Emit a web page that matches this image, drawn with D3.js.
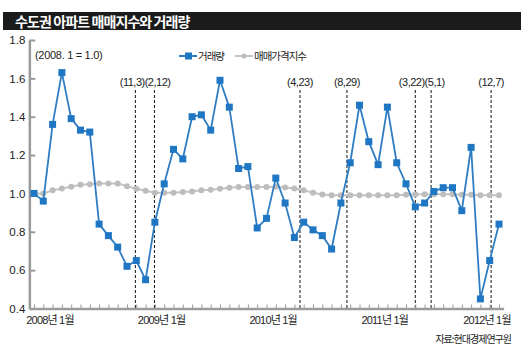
<!DOCTYPE html>
<head>
    <meta charset="utf-8">
    <script src="https://cdn.jsdelivr.net/npm/d3@7/dist/d3.min.js"></script>

    <style type="text/css">
        body {
            margin: 0;
            background: #fff; }

        text {
            font-family: "Liberation Sans", "Noto Sans CJK KR", sans-serif;
            fill: #222; }

        .kr {
            font-family: "Noto Sans CJK KR", sans-serif; }

        .axis path,
        .axis line {
            fill: none;
            stroke: #9a9a9a; }

        .axis path {
            stroke-width: 2.5; }

        .event {
            stroke: #111;
            stroke-width: 1;
            stroke-dasharray: 3, 2; }
    </style>
</head>

<body>
    <svg id="chart"></svg>

    <script>
        // monthly points, 2008.01 - 2012.03
        var months = [
            "2008.01", "2008.02", "2008.03", "2008.04", "2008.05", "2008.06", "2008.07", "2008.08", "2008.09", "2008.10", "2008.11", "2008.12",
            "2009.01", "2009.02", "2009.03", "2009.04", "2009.05", "2009.06", "2009.07", "2009.08", "2009.09", "2009.10", "2009.11", "2009.12",
            "2010.01", "2010.02", "2010.03", "2010.04", "2010.05", "2010.06", "2010.07", "2010.08", "2010.09", "2010.10", "2010.11", "2010.12",
            "2011.01", "2011.02", "2011.03", "2011.04", "2011.05", "2011.06", "2011.07", "2011.08", "2011.09", "2011.10", "2011.11", "2011.12",
            "2012.01", "2012.02", "2012.03"
        ];

        // 거래량
        var volume = [
            1.00, 0.96, 1.36, 1.63, 1.39, 1.33, 1.32, 0.84, 0.78, 0.72, 0.62, 0.65,
            0.55, 0.85, 1.05, 1.23, 1.18, 1.40, 1.41, 1.33, 1.59, 1.45, 1.13, 1.14,
            0.82, 0.87, 1.08, 0.95, 0.77, 0.85, 0.81, 0.78, 0.71, 0.95, 1.16, 1.46,
            1.27, 1.15, 1.45, 1.16, 1.05, 0.93, 0.95, 1.01, 1.03, 1.03, 0.91, 1.24,
            0.45, 0.65, 0.84
        ];

        // 매매가격지수
        var priceIndex = [
            1.000, 1.000, 1.016, 1.026, 1.035, 1.045, 1.048, 1.052, 1.052, 1.052, 1.038, 1.024,
            1.014, 1.004, 1.004, 1.004, 1.007, 1.010, 1.016, 1.019, 1.024, 1.030, 1.033, 1.033,
            1.033, 1.033, 1.035, 1.031, 1.026, 1.017, 1.004, 0.995, 0.990, 0.990, 0.990, 0.990,
            0.990, 0.990, 0.990, 0.990, 0.993, 0.995, 0.996, 0.996, 0.996, 0.996, 0.993, 0.993,
            0.991, 0.991, 0.991
        ];

        var yTicks = [0.4, 0.6, 0.8, 1.0, 1.2, 1.4, 1.6, 1.8];
        var xTickMonths = ["2008.01", "2009.01", "2010.01", "2011.01", "2012.01"];
        var xTickLabels = ["2008년 1월", "2009년 1월", "2010년 1월", "2011년 1월", "2012년 1월"];

        // policy dates (dashed lines), positions in months as drawn in the source
        var eventLabels = ["(11,3)", "(2,12)", "(4,23)", "(8,29)", "(3,22)", "(5,1)", "(12,7)"];
        var eventPos = [10.9, 12.95, 28.6, 33.65, 41.0, 42.7, 49.15];

        var W = 521, H = 352;
        var plot = { left: 29.35, right: 503.65, top: 40, bottom: 308.5 };

        var svg = d3.select("#chart")
            .attr("width", W)
            .attr("height", H);

        var x = d3.scaleLinear()
            .domain([-0.5, months.length - 0.5])
            .range([plot.left, plot.right]);

        var y = d3.scaleLinear()
            .domain([0.4, 1.8])
            .range([plot.bottom, plot.top]);

        // title band
        svg.append("rect")
            .attr("x", 3).attr("y", 12)
            .attr("width", W - 3).attr("height", 18)
            .attr("fill", "#1b1b1b");

        svg.append("text")
            .attr("class", "kr")
            .attr("x", 15).attr("y", 26.5)
            .style("fill", "#fff")
            .style("font-size", "14px")
            .style("font-weight", "bold")
            .style("letter-spacing", "-0.9px")
            .text("수도권 아파트 매매지수와 거래량");

        // dashed event lines + labels
        svg.selectAll(".event")
            .data(eventPos)
            .enter().append("line")
            .attr("class", "event")
            .attr("x1", function (d) { return x(d); })
            .attr("x2", function (d) { return x(d); })
            .attr("y1", 90)
            .attr("y2", plot.bottom);

        var evText = svg.selectAll(".evlabel")
            .data(eventLabels)
            .enter().append("text")
            .attr("class", "evlabel")
            .attr("y", 86)
            .attr("text-anchor", "middle")
            .style("font-size", "11px")
            .style("letter-spacing", "-0.5px")
            .text(function (d) { return d; });

        // push apart labels that collide
        var boxes = [];
        evText.each(function (d, i) {
            var w = this.getComputedTextLength();
            boxes.push({ c: x(eventPos[i]), w: w });
        });
        for (var i = 1; i < boxes.length; i++) {
            var prevR = boxes[i - 1].c + boxes[i - 1].w / 2,
                curL = boxes[i].c - boxes[i].w / 2;
            if (curL < prevR) {
                var o = (prevR - curL) / 2;
                boxes[i - 1].c -= o;
                boxes[i].c += o;
            }
        }
        evText.attr("x", function (d, i) { return boxes[i].c; });

        // axes
        var xAxis = d3.axisTop(x)
            .tickValues(d3.range(months.length))
            .tickSize(4)
            .tickSizeOuter(0)
            .tickFormat("");

        svg.append("g")
            .attr("class", "axis")
            .attr("transform", "translate(0," + plot.bottom + ")")
            .call(xAxis);

        svg.selectAll(".xlabel")
            .data(xTickLabels)
            .enter().append("text")
            .attr("class", "xlabel")
            .attr("x", function (d, i) {
                return Math.min(x(months.indexOf(xTickMonths[i])) + 16, W - 34);
            })
            .attr("y", 324)
            .attr("text-anchor", "middle")
            .style("font-size", "11px")
            .style("letter-spacing", "-0.8px")
            .text(function (d) { return d; });

        var yAxis = d3.axisRight(y)
            .tickValues(yTicks)
            .tickSize(6)
            .tickSizeOuter(0)
            .tickFormat(d3.format(".1f"));

        var gy = svg.append("g")
            .attr("class", "axis")
            .attr("transform", "translate(" + plot.left + ",0)")
            .call(yAxis);

        gy.selectAll(".tick line").attr("stroke-width", 2);
        gy.selectAll("text")
            .attr("x", -4)
            .attr("text-anchor", "end")
            .style("font-family", "Liberation Sans, sans-serif")
            .style("font-size", "11.5px")
            .style("fill", "#222");

        // 매매가격지수 series
        var line = d3.line()
            .x(function (d, i) { return x(i); })
            .y(function (d) { return y(d); });

        svg.append("path")
            .datum(priceIndex)
            .attr("d", line)
            .attr("fill", "none")
            .attr("stroke", "#c3c3c3")
            .attr("stroke-width", 2);

        svg.selectAll(".pdot")
            .data(priceIndex)
            .enter().append("circle")
            .attr("class", "pdot")
            .attr("cx", function (d, i) { return x(i); })
            .attr("cy", function (d) { return y(d); })
            .attr("r", 3)
            .attr("fill", "#bdbdbd");

        // 거래량 series
        svg.append("path")
            .datum(volume)
            .attr("d", line)
            .attr("fill", "none")
            .attr("stroke", "#2e7cc2")
            .attr("stroke-width", 1.8);

        svg.selectAll(".vsq")
            .data(volume)
            .enter().append("rect")
            .attr("class", "vsq")
            .attr("x", function (d, i) { return x(i) - 3.5; })
            .attr("y", function (d) { return y(d) - 3.5; })
            .attr("width", 7)
            .attr("height", 7)
            .attr("fill", "#1f77c4");

        // base note
        svg.append("text")
            .attr("x", 35).attr("y", 59)
            .style("font-size", "11px")
            .style("letter-spacing", "-0.3px")
            .text("(2008. 1 = 1.0)");

        // legend
        var lg = svg.append("g").attr("transform", "translate(179,56)");
        lg.append("line").attr("x1", 0).attr("x2", 18)
            .attr("stroke", "#2e7cc2").attr("stroke-width", 2);
        lg.append("rect").attr("x", 6).attr("y", -3.5).attr("width", 7).attr("height", 7)
            .attr("fill", "#1f77c4");
        lg.append("text").attr("class", "kr").attr("x", 19).attr("y", 4)
            .style("font-size", "10.5px").style("letter-spacing", "-1px")
            .text("거래량");

        lg.append("line").attr("x1", 56).attr("x2", 74)
            .attr("stroke", "#c3c3c3").attr("stroke-width", 2);
        lg.append("circle").attr("cx", 65).attr("cy", 0).attr("r", 2.5)
            .attr("fill", "#bdbdbd");
        lg.append("text").attr("class", "kr").attr("x", 75).attr("y", 4)
            .style("font-size", "10.5px").style("letter-spacing", "-1px")
            .text("매매가격지수");

        // source
        svg.append("text")
            .attr("class", "kr")
            .attr("x", 511).attr("y", 343)
            .attr("text-anchor", "end")
            .style("font-size", "10px")
            .style("letter-spacing", "-1px")
            .text("자료:현대경제연구원");
    </script>
</body>

</html>
